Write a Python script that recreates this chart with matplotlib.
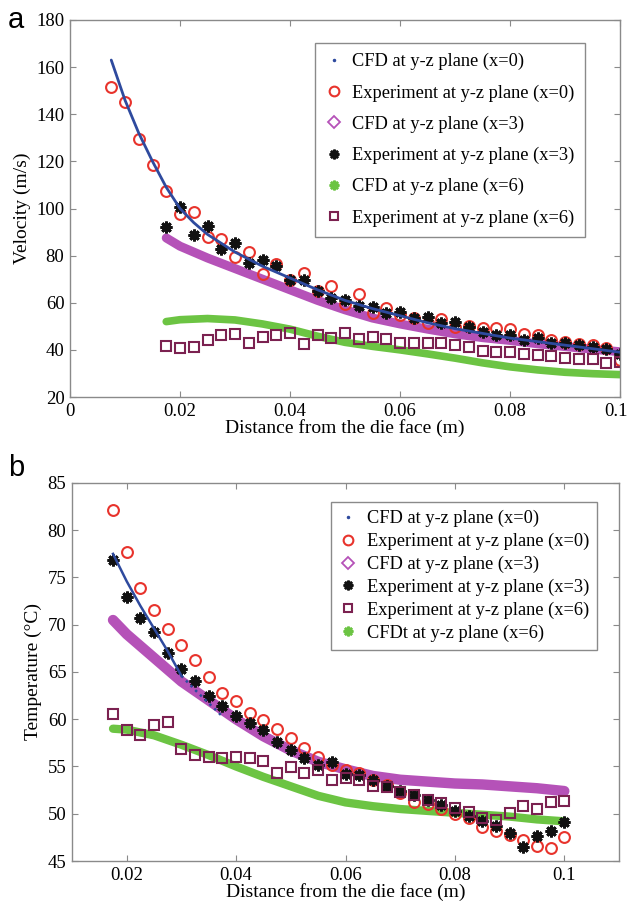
import matplotlib
matplotlib.use("Agg")
import matplotlib.pyplot as plt
import matplotlib.transforms as mtransforms
from matplotlib.lines import Line2D

# ---- panel a: velocity ----
x_exp_a0 = [0.0075, 0.01, 0.0125, 0.015, 0.0175, 0.02, 0.0225, 0.025, 0.0275, 0.03,
            0.0325, 0.035, 0.0375, 0.04, 0.0425, 0.045, 0.0475, 0.05, 0.0525, 0.055,
            0.0575, 0.06, 0.0625, 0.065, 0.0675, 0.07, 0.0725, 0.075, 0.0775, 0.08,
            0.0825, 0.085, 0.0875, 0.09, 0.0925, 0.095, 0.0975, 0.1]
vel_exp_x0 = [151.5, 145, 129.5, 118.5, 107.5, 97.5, 98.5, 88, 87, 79.5,
              81.5, 72, 76.5, 69.5, 72.5, 65, 67.3, 59.5, 63.8, 55.5,
              57.7, 54.8, 53.4, 51.3, 53, 49.6, 50.3, 49.1, 49.1, 48.7,
              46.6, 46.4, 44.2, 43.4, 42.3, 42, 41, 35.7]

x_exp = [0.0175, 0.02, 0.0225, 0.025, 0.0275, 0.03, 0.0325, 0.035, 0.0375, 0.04,
         0.0425, 0.045, 0.0475, 0.05, 0.0525, 0.055, 0.0575, 0.06, 0.0625, 0.065,
         0.0675, 0.07, 0.0725, 0.075, 0.0775, 0.08, 0.0825, 0.085, 0.0875, 0.09,
         0.0925, 0.095, 0.0975, 0.1]
vel_exp_x3 = [92.3, 100.5, 88.7, 92.6, 82.7, 85.5, 77, 78.1, 75.6, 69.6,
              69.6, 65.1, 62, 61.2, 58.7, 58, 55.5, 56.2, 53.4, 54.1,
              51.5, 52, 49.6, 47.4, 46.3, 46.3, 44.2, 45, 43, 43,
              42, 41.3, 40.2, 38.1]
vel_exp_x6 = [41.8, 40.6, 41.3, 44.2, 46.3, 46.6, 43, 45.6, 46.3, 47,
              42.5, 46.3, 45.2, 47, 44.7, 45.3, 44.5, 42.8, 42.8, 42.8,
              42.8, 42, 41.3, 39.5, 39.2, 38.9, 38.2, 37.8, 37.5, 36.7,
              36.1, 36.1, 34.6, 35]

x_cfd_a0 = [0.0075, 0.01, 0.0125, 0.015, 0.0175, 0.02, 0.0225, 0.025, 0.03, 0.035,
            0.04, 0.045, 0.05, 0.055, 0.06, 0.065, 0.07, 0.075, 0.08, 0.085,
            0.09, 0.095, 0.1]
vel_cfd_x0 = [163, 146, 132, 120, 109, 100, 94, 89, 81.5, 75.5,
              70.5, 65.5, 61, 57.5, 54.5, 51.5, 49, 47, 45, 43.5,
              42, 40.5, 39]

x_cfd = [0.0175, 0.02, 0.025, 0.03, 0.035, 0.04, 0.045, 0.05, 0.055, 0.06,
         0.065, 0.07, 0.075, 0.08, 0.085, 0.09, 0.095, 0.1]
vel_cfd_x3 = [87.5, 84, 79, 74.5, 70, 65.5, 61, 57, 53.5, 51,
              48.8, 46.8, 45.2, 44, 42.6, 41.4, 40.3, 39.2]
vel_cfd_x6 = [52, 52.8, 53.3, 52.7, 51, 48.8, 45.8, 43.2, 41.5, 40,
              38.3, 36.5, 34.5, 32.8, 31.5, 30.5, 29.9, 29.5]

# ---- panel b: temperature ----
tmp_exp_x0 = [82.1, 77.7, 73.9, 71.6, 69.6, 67.9, 66.3, 64.5, 62.8, 61.9,
              60.7, 59.9, 59.0, 58.0, 57.0, 56.0, 55.2, 54.6, 54.3, 53.6,
              53.0, 52.2, 51.2, 51.0, 50.5, 50.0, 49.5, 48.6, 48.2, 47.8,
              47.2, 46.6, 46.4, 47.5]
tmp_exp_x3 = [76.9, 72.9, 70.7, 69.2, 67.0, 65.3, 64.1, 62.5, 61.4, 60.3,
              59.6, 58.9, 57.6, 56.7, 55.9, 55.2, 55.5, 54.2, 54.1, 53.6,
              52.9, 52.4, 52.0, 51.5, 50.9, 50.3, 49.8, 49.2, 48.7, 48.0,
              46.5, 47.6, 48.2, 49.1]
tmp_exp_x6 = [60.6, 58.9, 58.3, 59.4, 59.7, 56.9, 56.2, 56.0, 55.9, 56.0,
              55.9, 55.6, 54.3, 54.9, 54.3, 54.6, 53.6, 53.8, 53.6, 52.9,
              52.8, 52.3, 52.0, 51.5, 51.1, 50.6, 50.2, 49.6, 49.3, 50.1,
              50.8, 50.5, 51.2, 51.4]

x_cfd_b0 = [0.0175, 0.02, 0.0225, 0.025, 0.0275, 0.03, 0.0325, 0.035, 0.0375]
tmp_cfd_x0 = [77.5, 74.6, 72, 69.6, 67.2, 64.6, 63.1, 61.7, 60.3]
tmp_cfd_x3 = [70.5, 69, 66.5, 64, 62, 60, 58.2, 56.7, 55.5, 54.7,
              54, 53.6, 53.4, 53.2, 53.1, 52.9, 52.7, 52.4]
tmp_cfd_x6 = [59, 58.9, 58.3, 57.3, 56.2, 55.0, 53.9, 52.9, 51.9, 51.2,
              50.8, 50.5, 50.3, 50.1, 49.9, 49.7, 49.4, 49.2]

labels_a = ["CFD at y-z plane (x=0)", "Experiment at y-z plane (x=0)",
            "CFD at y-z plane (x=3)", "Experiment at y-z plane (x=3)",
            "CFD at y-z plane (x=6)", "Experiment at y-z plane (x=6)"]
labels_b = ["CFD at y-z plane (x=0)", "Experiment at y-z plane (x=0)",
            "CFD at y-z plane (x=3)", "Experiment at y-z plane (x=3)",
            "Experiment at y-z plane (x=6)", "CFDt at y-z plane (x=6)"]

BLUE = "#2E4A9E"
RED = "#E8332C"
MAGENTA = "#B552B8"
BLACK = "#111111"
GREEN = "#6CC443"
MAROON = "#7B2150"
SPINE = "#8A8A8A"
SERIF = ["Liberation Serif", "DejaVu Serif"]
STAR = (8, 2, 0)

plt.rcParams["font.family"] = SERIF


def style_axes(ax):
    for s in ax.spines.values():
        s.set_color(SPINE)
        s.set_linewidth(1.0)
    ax.tick_params(direction="in", top=True, right=True, length=4,
                   color=SPINE, labelsize=13.5, labelcolor="black", pad=4)


def open_marker(ax, x, y, marker, color, size, mew=1.5):
    ax.plot(x, y, linestyle="none", marker=marker, markersize=size,
            markerfacecolor="none", markeredgecolor=color, markeredgewidth=mew)


def star(ax, x, y):
    ax.plot(x, y, linestyle="none", marker=STAR, markersize=8.5,
            markeredgecolor=BLACK, markeredgewidth=2.0, color=BLACK)


def handles(order):
    h = {
        "cfd0": Line2D([], [], ls="none", marker=".", ms=3, color=BLUE),
        "exp0": Line2D([], [], ls="none", marker="o", ms=7, mfc="none", mec=RED, mew=1.5),
        "cfd3": Line2D([], [], ls="none", marker="D", ms=6, mfc="none", mec=MAGENTA, mew=1.3),
        "exp3": Line2D([], [], ls="none", marker=STAR, ms=7, mec=BLACK, mew=1.8),
        "cfd6": Line2D([], [], ls="none", marker=STAR, ms=7, mec=GREEN, mew=1.8),
        "exp6": Line2D([], [], ls="none", marker="s", ms=6, mfc="none", mec=MAROON, mew=1.5),
    }
    return [h[k] for k in order]


fig = plt.figure(figsize=(6.29, 9.02), dpi=100)
fig.patch.set_facecolor("white")

# panel a
ax1 = fig.add_axes([70 / 629, (902 - 397) / 902, 550 / 629, 377 / 902])
ax1.plot(x_cfd_a0, vel_cfd_x0, color=BLUE, linewidth=2.0, solid_capstyle="round", zorder=3)
ax1.plot(x_cfd, vel_cfd_x3, color=MAGENTA, linewidth=6.5, solid_capstyle="round", zorder=2)
ax1.plot(x_cfd, vel_cfd_x6, color=GREEN, linewidth=5.5, solid_capstyle="round", zorder=2)
open_marker(ax1, x_exp_a0, vel_exp_x0, "o", RED, 7.8)
star(ax1, x_exp, vel_exp_x3)
open_marker(ax1, x_exp, vel_exp_x6, "s", MAROON, 6.5)
ax1.set_xlim(0, 0.1)
ax1.set_ylim(20, 180)
ax1.set_xticks([0, 0.02, 0.04, 0.06, 0.08, 0.1])
ax1.set_xticklabels(["0", "0.02", "0.04", "0.06", "0.08", "0.1"])
ax1.set_yticks(range(20, 181, 20))
ax1.set_xlabel("Distance from the die face (m)", fontsize=14, labelpad=0)
ax1.set_ylabel("Velocity (m/s)", fontsize=14, labelpad=4)
style_axes(ax1)
# last tick label sits on the figure edge; nudge it left a few pixels
last = ax1.get_xticklabels()[-1]
last.set_transform(last.get_transform()
                   + mtransforms.ScaledTranslation(-4 / 100, 0, fig.dpi_scale_trans))
leg1 = ax1.legend(handles(["cfd0", "exp0", "cfd3", "exp3", "cfd6", "exp6"]), labels_a,
                  loc="upper left", bbox_to_anchor=(0.445, 0.939), borderaxespad=0,
                  fontsize=13.2, labelspacing=0.76, handlelength=1.0, handletextpad=0.5,
                  borderpad=0.55, fancybox=False, framealpha=1, edgecolor=SPINE)
leg1.get_frame().set_linewidth(1.0)
fig.text(16 / 629, 1 - 20 / 902, "a", fontsize=21, family="Liberation Sans",
         ha="center", va="center")

# panel b
ax2 = fig.add_axes([72 / 629, (902 - 861) / 902, 547 / 629, 378 / 902])
ax2.plot(x_cfd, tmp_cfd_x3, color=MAGENTA, linewidth=7.5, solid_capstyle="round", zorder=2)
ax2.plot(x_cfd, tmp_cfd_x6, color=GREEN, linewidth=6.0, solid_capstyle="round", zorder=2)
ax2.plot(x_cfd_b0[:6], tmp_cfd_x0[:6], color=BLUE, linewidth=1.8, zorder=3)
ax2.plot(x_cfd_b0[5:], tmp_cfd_x0[5:], color=BLUE, linewidth=1.8, linestyle=":", zorder=3)
open_marker(ax2, x_exp, tmp_exp_x0, "o", RED, 7.8)
star(ax2, x_exp, tmp_exp_x3)
open_marker(ax2, x_exp, tmp_exp_x6, "s", MAROON, 6.5)
ax2.set_xlim(0.01, 0.11)
ax2.set_ylim(45, 85)
ax2.set_xticks([0.02, 0.04, 0.06, 0.08, 0.1])
ax2.set_xticklabels(["0.02", "0.04", "0.06", "0.08", "0.1"])
ax2.set_yticks(range(45, 86, 5))
ax2.set_xlabel("Distance from the die face (m)", fontsize=14, labelpad=0)
ax2.set_ylabel("Temperature (°C)", fontsize=14, labelpad=4)
style_axes(ax2)
leg2 = ax2.legend(handles(["cfd0", "exp0", "cfd3", "exp3", "exp6", "cfd6"]), labels_b,
                  loc="upper left", bbox_to_anchor=(0.4735, 0.95), borderaxespad=0,
                  fontsize=13.2, labelspacing=0.3, handlelength=1.0, handletextpad=0.5,
                  borderpad=0.45, fancybox=False, framealpha=1, edgecolor=SPINE)
leg2.get_frame().set_linewidth(1.0)
fig.text(16 / 629, 1 - 468 / 902, "b", fontsize=21, family="Liberation Sans",
         ha="center", va="center")

fig.savefig("out.png", dpi=100, facecolor="white")
